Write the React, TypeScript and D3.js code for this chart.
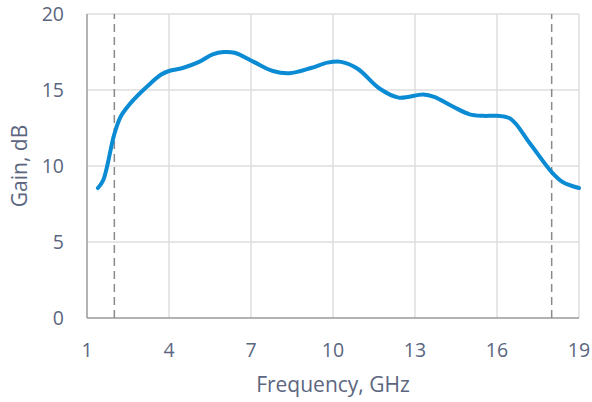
import React, { useRef, useEffect } from 'react';
import * as d3 from 'd3';

const freq = [1.4, 1.6, 2.0, 2.25, 2.7, 3.3, 3.7, 4.0, 4.5, 5.1, 5.6, 6.0, 6.4, 7.1, 7.8, 8.4, 9.2, 9.8, 10.3, 10.9, 11.7, 12.4, 13.3, 13.7, 14.4, 15.0, 15.5, 16.0, 16.5, 17.2, 18.0, 18.4, 19.0];
const gain = [8.55, 9.1, 12.1, 13.3, 14.35, 15.4, 16.0, 16.25, 16.45, 16.85, 17.35, 17.5, 17.45, 16.85, 16.25, 16.1, 16.45, 16.8, 16.85, 16.4, 15.1, 14.5, 14.7, 14.55, 13.9, 13.4, 13.3, 13.3, 13.1, 11.5, 9.6, 8.95, 8.55];
const xTicks = [1, 4, 7, 10, 13, 16, 19];
const yTicks = [0, 5, 10, 15, 20];
const bandEdges = [2, 18];

const App = () => {
    const ref = useRef<HTMLDivElement>(null);

    useEffect(() => {
        const width = 592;
        const height = 402;
        const marginLeft = 87;
        const marginRight = 13;
        const marginTop = 14;
        const marginBottom = 84;
        const textColor = '#5c6680';
        const font = '"Open Sans", sans-serif';
        const fontSize = 19.5;

        const x = d3.scaleLinear([1, 19], [marginLeft, width - marginRight]);
        const y = d3.scaleLinear([0, 20], [height - marginBottom, marginTop]);

        const svg = d3.create('svg')
            .attr('width', width)
            .attr('height', height)
            .attr('viewBox', [0, 0, width, height])
            .style('position', 'absolute')
            .style('left', 0)
            .style('top', 0)
            .style('font-family', font);

        // grid
        svg.append('g')
            .selectAll('line')
            .data(xTicks.slice(1))
            .join('line')
            .attr('x1', d => x(d))
            .attr('x2', d => x(d))
            .attr('y1', y(0))
            .attr('y2', y(20))
            .attr('stroke', '#dedede')
            .attr('stroke-width', 1.5);

        svg.append('g')
            .selectAll('line')
            .data(yTicks.slice(1))
            .join('line')
            .attr('x1', x(1))
            .attr('x2', x(19))
            .attr('y1', d => y(d))
            .attr('y2', d => y(d))
            .attr('stroke', '#dedede')
            .attr('stroke-width', 1.5);

        // axes lines
        svg.append('line')
            .attr('x1', x(1)).attr('x2', x(19))
            .attr('y1', y(0)).attr('y2', y(0))
            .attr('stroke', '#9a9a9a').attr('stroke-width', 1.5);
        svg.append('line')
            .attr('x1', x(1)).attr('x2', x(1))
            .attr('y1', y(0)).attr('y2', y(20))
            .attr('stroke', '#9a9a9a').attr('stroke-width', 1.5);

        // band edges
        svg.append('g')
            .selectAll('line')
            .data(bandEdges)
            .join('line')
            .attr('x1', d => x(d))
            .attr('x2', d => x(d))
            .attr('y1', y(0))
            .attr('y2', y(20))
            .attr('stroke', '#8a8a8a')
            .attr('stroke-width', 1.5)
            .attr('stroke-dasharray', '8,5');

        // tick labels
        svg.append('g')
            .selectAll('text')
            .data(xTicks)
            .join('text')
            .attr('x', d => x(d))
            .attr('y', y(0) + 39)
            .attr('text-anchor', 'middle')
            .attr('font-size', fontSize)
            .attr('fill', textColor)
            .text(d => d);

        svg.append('g')
            .selectAll('text')
            .data(yTicks)
            .join('text')
            .attr('x', x(1) - 23)
            .attr('y', d => y(d))
            .attr('dy', '0.35em')
            .attr('text-anchor', 'end')
            .attr('font-size', fontSize)
            .attr('fill', textColor)
            .text(d => d);

        // axis titles
        svg.append('text')
            .attr('x', (x(1) + x(19)) / 2)
            .attr('y', 392)
            .attr('text-anchor', 'middle')
            .attr('font-size', 21)
            .attr('fill', textColor)
            .text('Frequency, GHz');

        svg.append('text')
            .attr('transform', `translate(27,${(y(0) + y(20)) / 2}) rotate(-90)`)
            .attr('text-anchor', 'middle')
            .attr('font-size', 21)
            .attr('fill', textColor)
            .text('Gain, dB');

        const line = d3.line<number>()
            .x((_, i) => x(freq[i]))
            .y(d => y(d))
            .curve(d3.curveCatmullRom.alpha(0.5));

        svg.append('path')
            .attr('fill', 'none')
            .attr('stroke', '#0a8bd3')
            .attr('stroke-width', 4)
            .attr('stroke-linecap', 'round')
            .attr('d', line(gain));

        ref.current!.appendChild(svg.node()!);
        return () => {
            if (ref.current) ref.current.innerHTML = '';
        };
    }, []);

    return <div ref={ref}></div>;
};

export default App;
